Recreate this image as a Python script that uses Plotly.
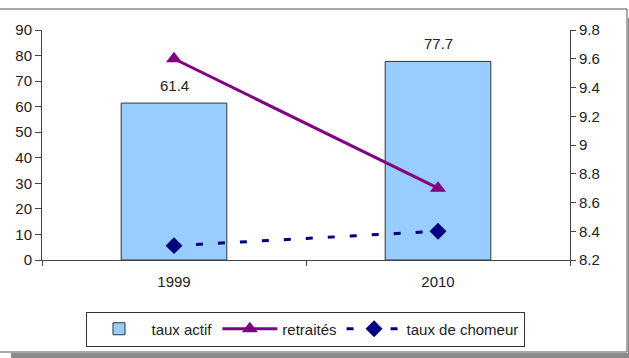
import plotly.graph_objects as go

# Data
years = ["1999", "2010"]
taux_actif = [61.4, 77.7]
retraites = [9.6, 8.7]
taux_chomeur = [8.3, 8.4]

left_ticks = [0, 10, 20, 30, 40, 50, 60, 70, 80, 90]
right_ticks = [8.2, 8.4, 8.6, 8.8, 9.0, 9.2, 9.4, 9.6, 9.8]
right_labels = ["8.2", "8.4", "8.6", "8.8", "9", "9.2", "9.4", "9.6", "9.8"]

FONT = "Liberation Sans, Arial, sans-serif"
FS = 15
TXT = "#222222"
W, H = 629, 358
L, R, T, B = 42, 59, 30, 98
PW, PH = W - L - R, H - T - B


def px_x(px):
    return (px - L) / PW


def px_y(py):
    return (H - B - py) / PH


fig = go.Figure()

fig.add_trace(go.Bar(
    x=years, y=taux_actif, name="taux actif",
    marker=dict(color="#99CCFF", line=dict(color="#333333", width=1)),
    yaxis="y",
))

fig.add_trace(go.Scatter(
    x=years, y=retraites, name="retraités", mode="lines+markers",
    line=dict(color="#800080", width=3),
    marker=dict(symbol="triangle-up", size=14, color="#800080"),
    yaxis="y2",
))

fig.add_trace(go.Scatter(
    x=years, y=taux_chomeur, name="taux de chomeur", mode="lines+markers",
    line=dict(color="#000080", width=3, dash="7px,15px"),
    marker=dict(symbol="diamond", size=13, color="#000080"),
    yaxis="y2",
))

# value labels above the bars (category axis positions are serial indices)
annotations = [
    dict(x=i, y=v, xref="x", yref="y", text=f"{v}", showarrow=False,
         yanchor="middle", yshift=18, font=dict(family=FONT, size=FS, color=TXT))
    for i, v in enumerate(taux_actif)
]

shapes = [
    # chart frame
    dict(type="rect", xref="paper", yref="paper",
         x0=px_x(-2), x1=px_x(627), y0=px_y(352), y1=px_y(9),
         line=dict(color="#555555", width=1), fillcolor="rgba(0,0,0,0)", layer="below"),
    # drop shadow (bottom and right)
    dict(type="rect", xref="paper", yref="paper",
         x0=px_x(11), x1=px_x(629), y0=px_y(358), y1=px_y(353),
         line=dict(width=0), fillcolor="#8a8a8a", layer="below"),
    dict(type="rect", xref="paper", yref="paper",
         x0=px_x(628), x1=px_x(629), y0=px_y(358), y1=px_y(18),
         line=dict(width=0), fillcolor="#8a8a8a", layer="below"),
]

fig.update_layout(
    width=W, height=H,
    margin=dict(l=L, r=R, t=T, b=B, pad=0),
    paper_bgcolor="white", plot_bgcolor="white",
    font=dict(family=FONT, size=FS, color=TXT),
    bargap=0.6,
    showlegend=True,
    legend=dict(
        orientation="h", x=px_x(305), y=px_y(329), xanchor="center", yanchor="middle",
        bordercolor="#333333", borderwidth=1, bgcolor="white",
        font=dict(family=FONT, size=FS, color=TXT),
        itemwidth=55, tracegroupgap=0,
    ),
    xaxis=dict(
        type="category", range=[-0.5, 1.5], showgrid=False, showline=True,
        linecolor="#444444", linewidth=1,
        ticks="outside", ticklen=5, tickcolor="#444444", tickson="boundaries",
        ticklabelstandoff=8,
        tickfont=dict(family=FONT, size=FS, color=TXT), zeroline=False,
    ),
    yaxis=dict(
        range=[0, 90], tickvals=left_ticks, showgrid=False, zeroline=False,
        showline=True, linecolor="#444444", linewidth=1,
        ticks="outside", ticklen=6, tickcolor="#444444",
        tickfont=dict(family=FONT, size=FS, color=TXT),
    ),
    yaxis2=dict(
        range=[8.2, 9.8], tickvals=right_ticks, ticktext=right_labels,
        overlaying="y", side="right", anchor="x", showgrid=False, zeroline=False,
        showline=True, linecolor="#444444", linewidth=1,
        ticks="outside", ticklen=5, tickcolor="#444444",
        tickfont=dict(family=FONT, size=FS, color=TXT),
    ),
    # inner half of the cross tick marks on the right axis
    yaxis3=dict(
        range=[8.2, 9.8], tickvals=right_ticks, overlaying="y", side="right", anchor="x",
        showgrid=False, zeroline=False, showline=False, showticklabels=False,
        ticks="inside", ticklen=5, tickcolor="#444444",
    ),
    annotations=annotations,
    shapes=shapes,
)

fig.write_html("out.html")
